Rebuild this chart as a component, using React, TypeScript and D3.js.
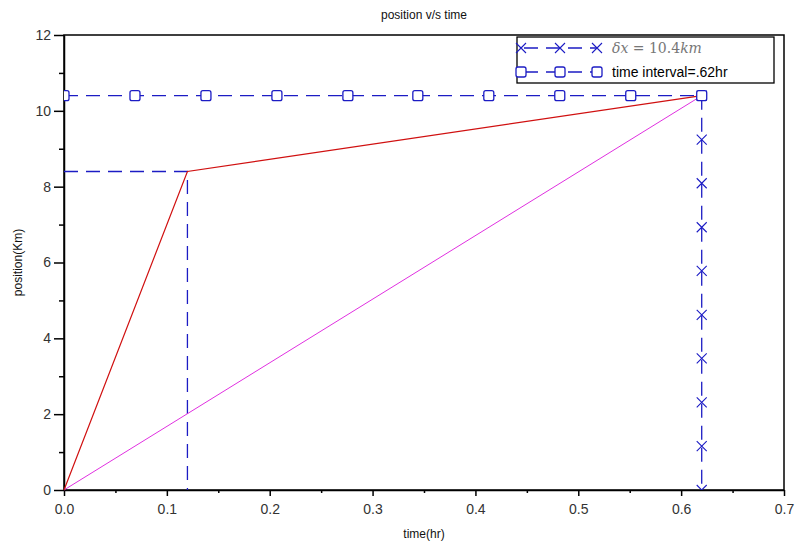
import * as React from "react";
import * as d3 from "d3";

// red: position vs time, two stages
const redTime = [0, 0.12, 0.62];
const redPos = [0, 8.4, 10.4];
// magenta: straight average line
const avgTime = [0, 0.62];
const avgPos = [0, 10.4];
// dashed guide at t=0.12
const guideTime = [0, 0.12, 0.12];
const guidePos = [8.4, 8.4, 0];
// dashed horizontal at 10.4 with circle markers (time interval)
const intervalTime = [0, 0.069, 0.138, 0.207, 0.276, 0.344, 0.413, 0.482, 0.551, 0.62];
const intervalPos = [10.4, 10.4, 10.4, 10.4, 10.4, 10.4, 10.4, 10.4, 10.4, 10.4];
// dashed vertical at 0.62 with x markers (delta x)
const deltaTime = [0.62, 0.62, 0.62, 0.62, 0.62, 0.62, 0.62, 0.62, 0.62, 0.62];
const deltaPos = [0, 1.16, 2.31, 3.47, 4.62, 5.78, 6.93, 8.09, 9.24, 10.4];

const xTicks = [0, 0.1, 0.2, 0.3, 0.4, 0.5, 0.6, 0.7];
const xMinor = [0.05, 0.15, 0.25, 0.35, 0.45, 0.55, 0.65];
const yTicks = [0, 2, 4, 6, 8, 10, 12];
const yMinor = [1, 3, 5, 7, 9, 11];

const W = 798;
const H = 546;
const BLUE = "#1c1cc4";

function drawChart(svgRef) {
  const svg = d3.select(svgRef.current);
  svg.selectAll("*").remove();

  const left = 64, right = 784, top = 35, bottom = 490;
  const x = d3.scaleLinear().domain([0, 0.7]).range([left, right]);
  const y = d3.scaleLinear().domain([0, 12]).range([bottom, top]);
  const font = "Liberation Sans, Arial, sans-serif";

  const line = d3.line().x(d => x(d[0])).y(d => y(d[1]));
  const pts = (a, b) => a.map((v, i) => [v, b[i]]);

  const g = svg.append("g");

  // frame
  g.append("rect")
    .attr("x", left).attr("y", top)
    .attr("width", right - left).attr("height", bottom - top)
    .attr("fill", "none").attr("stroke", "#000").attr("stroke-width", 1.5);

  // x axis
  const xAxis = g.append("g").attr("transform", `translate(0,${bottom})`)
    .call(d3.axisBottom(x).tickValues(xTicks).tickFormat(d3.format(".1f")).tickSize(6).tickSizeOuter(0));
  g.append("g").attr("transform", `translate(0,${bottom})`)
    .call(d3.axisBottom(x).tickValues(xMinor).tickFormat(() => "").tickSize(3).tickSizeOuter(0))
    .call(s => s.select(".domain").remove());

  // y axis
  const yAxis = g.append("g").attr("transform", `translate(${left},0)`)
    .call(d3.axisLeft(y).tickValues(yTicks).tickFormat(d3.format("d")).tickSize(10).tickSizeOuter(0));
  g.append("g").attr("transform", `translate(${left},0)`)
    .call(d3.axisLeft(y).tickValues(yMinor).tickFormat(() => "").tickSize(5).tickSizeOuter(0))
    .call(s => s.select(".domain").remove());

  g.selectAll(".domain").attr("stroke-width", 1.5);
  g.selectAll(".tick line").attr("stroke-width", 1.5);
  xAxis.selectAll("text").attr("font-family", font).attr("font-size", 14).attr("fill", "#333").attr("y", 14);
  yAxis.selectAll("text").attr("font-family", font).attr("font-size", 14).attr("fill", "#333").attr("x", -13);

  // lines
  const dash = "14,8";
  g.append("path").attr("d", line(pts(guideTime, guidePos)))
    .attr("fill", "none").attr("stroke", BLUE).attr("stroke-width", 1.3).attr("stroke-dasharray", dash);
  g.append("path").attr("d", line(pts(intervalTime, intervalPos)))
    .attr("fill", "none").attr("stroke", BLUE).attr("stroke-width", 1.3).attr("stroke-dasharray", dash);
  g.append("path").attr("d", line(pts(deltaTime, deltaPos).reverse()))
    .attr("fill", "none").attr("stroke", BLUE).attr("stroke-width", 1.3).attr("stroke-dasharray", dash);
  g.append("path").attr("d", line(pts(avgTime, avgPos)))
    .attr("fill", "none").attr("stroke", "#e030e0").attr("stroke-width", 1);
  g.append("path").attr("d", line(pts(redTime, redPos)))
    .attr("fill", "none").attr("stroke", "#d01010").attr("stroke-width", 1.2);

  // markers
  const cross = (sel, cx, cy) => {
    sel.append("path")
      .attr("d", `M${cx - 5},${cy - 5}L${cx + 5},${cy + 5}M${cx - 5},${cy + 5}L${cx + 5},${cy - 5}`)
      .attr("stroke", BLUE).attr("stroke-width", 1.1).attr("fill", "none");
  };
  const square = (sel, cx, cy) => {
    sel.append("rect").attr("x", cx - 5).attr("y", cy - 5).attr("width", 10).attr("height", 10)
      .attr("rx", 2).attr("fill", "#fff").attr("stroke", BLUE).attr("stroke-width", 1.3);
  };
  const clip = svg.append("clipPath").attr("id", "plotclip");
  clip.append("rect").attr("x", left).attr("y", top).attr("width", right - left).attr("height", bottom - top);
  const mk = g.append("g").attr("clip-path", "url(#plotclip)");
  deltaTime.forEach((t, i) => cross(mk, x(t), y(deltaPos[i])));
  intervalTime.forEach((t, i) => square(mk, x(t), y(intervalPos[i])));

  // legend
  const lg = g.append("g");
  lg.append("rect").attr("x", 517).attr("y", 37).attr("width", 257).attr("height", 46)
    .attr("fill", "#fff").attr("stroke", "#000").attr("stroke-width", 1.3);
  [[48, "cross"], [72, "square"]].forEach(([ly, kind]) => {
    lg.append("line").attr("x1", 520).attr("x2", 597).attr("y1", ly).attr("y2", ly)
      .attr("stroke", BLUE).attr("stroke-width", 1.3).attr("stroke-dasharray", "14,8").attr("stroke-dashoffset", -4);
    [521, 560, 597].forEach(cx => kind === "cross" ? cross(lg, cx, ly) : square(lg, cx, ly));
  });
  const dt = lg.append("text").attr("x", 612).attr("y", 53).attr("font-family", "DejaVu Serif, serif")
    .attr("font-size", 14).attr("fill", "#777");
  dt.append("tspan").attr("font-style", "italic").text("δx");
  dt.append("tspan").text(" = 10.4");
  dt.append("tspan").attr("font-style", "italic").text("km");
  lg.append("text").attr("x", 612).attr("y", 77).attr("font-family", font).attr("font-size", 14)
    .attr("fill", "#000").text("time interval=.62hr");

  // titles
  svg.append("text").attr("x", 424).attr("y", 19).attr("text-anchor", "middle")
    .attr("font-family", font).attr("font-size", 12).attr("fill", "#111").text("position v/s time");
  svg.append("text").attr("x", 424).attr("y", 538).attr("text-anchor", "middle")
    .attr("font-family", font).attr("font-size", 12).attr("fill", "#111").text("time(hr)");
  svg.append("text").attr("transform", `translate(22,${(top + bottom) / 2}) rotate(-90)`).attr("text-anchor", "middle")
    .attr("font-family", font).attr("font-size", 12).attr("fill", "#111").text("position(Km)");
}

const App = () => {
  const svgRef = React.useRef(null);
  React.useEffect(() => {
    drawChart(svgRef);
  }, []);
  return (
    <svg ref={svgRef} width={W} height={H}
      style={{ position: "absolute", left: 0, top: 0, background: "#fff" }} />
  );
};

export default App;
